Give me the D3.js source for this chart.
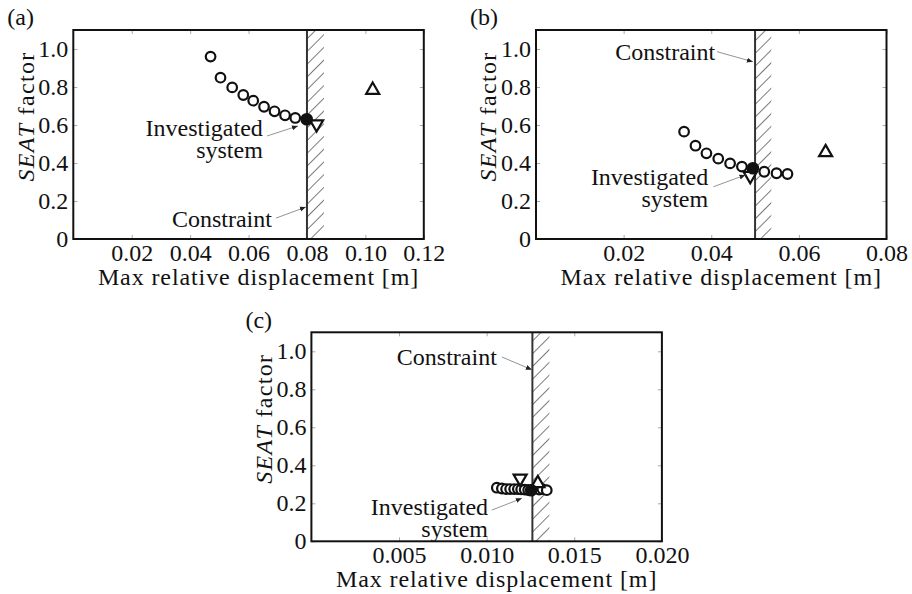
<!DOCTYPE html>
<html>
<head>
<meta charset="utf-8">
<script src="https://cdn.jsdelivr.net/npm/d3@7/dist/d3.min.js"></script>
<style>
  body { margin: 0; background: #fff; }
</style>
</head>
<body>
<div id="chart"></div>
<script>
/* ---- data ---- */
// (a)
const aFrontX = [0.0470, 0.0504, 0.0544, 0.0582, 0.0616, 0.0653, 0.0689, 0.0725, 0.0760];
const aFrontY = [0.960, 0.849, 0.798, 0.758, 0.728, 0.696, 0.672, 0.651, 0.637];
const aInvestigated = [0.0799, 0.630];
const aDown = [0.0833, 0.605];
const aUp = [0.1025, 0.784];
const aConstraint = [0.0800, 0.0858];
const aXTicks = [0.02, 0.04, 0.06, 0.08, 0.10, 0.12];
// (b)
const bFrontX = [0.0338, 0.0364, 0.0389, 0.0416, 0.0443, 0.0470, 0.0521, 0.0549, 0.0574];
const bFrontY = [0.565, 0.491, 0.451, 0.423, 0.398, 0.381, 0.354, 0.346, 0.342];
const bInvestigated = [0.0495, 0.372];
const bDown = [0.0489, 0.333];
const bUp = [0.0661, 0.456];
const bConstraint = [0.0500, 0.0537];
const bXTicks = [0.02, 0.04, 0.06, 0.08];
// (c)
const cFrontX = [0.01058, 0.01087, 0.01111, 0.01134, 0.01157, 0.01178, 0.01197, 0.01217, 0.01237, 0.01300, 0.01318, 0.01343];
const cFrontY = [0.282, 0.278, 0.275, 0.275, 0.275, 0.275, 0.273, 0.272, 0.270, 0.272, 0.275, 0.269];
const cInvestigated = [0.01254, 0.269];
const cDown = [0.01191, 0.331];
const cUp = [0.01292, 0.305];
const cConstraint = [0.01261, 0.01358];
const cXTicks = [0.005, 0.010, 0.015, 0.020];

const yTicks = [0, 0.2, 0.4, 0.6, 0.8, 1.0];
const xLabel = 'Max relative displacement [m]';

/* ---- panels ---- */
const W = 912, H = 594, FS = 24;
const FONT = '"Liberation Serif"';
const panels = [
  { tag: '(a)', left: 73.3, top: 30, xMax: 0.12, fmt: '.2f', ticks: aXTicks,
    fx: aFrontX, fy: aFrontY, inv: aInvestigated, down: aDown, up: aUp, con: aConstraint,
    notes: [
      { lines: ['Investigated', 'system'], at: [0.0649, 0.584], from: [0.0663, 0.542], to: [0.0769, 0.595] },
      { lines: ['Constraint'], at: [0.0680, 0.110], from: [0.0694, 0.110], to: [0.0796, 0.168] }
    ] },
  { tag: '(b)', left: 536, top: 30, xMax: 0.08, fmt: '.2f', ticks: bXTicks,
    fx: bFrontX, fy: bFrontY, inv: bInvestigated, down: bDown, up: bUp, con: bConstraint,
    notes: [
      { lines: ['Constraint'], at: [0.0409, 0.984], from: [0.0413, 0.986], to: [0.0495, 0.933] },
      { lines: ['Investigated', 'system'], at: [0.0393, 0.326], from: [0.0405, 0.275], to: [0.0478, 0.337] }
    ] },
  { tag: '(c)', left: 311.4, top: 332.3, xMax: 0.02, fmt: '.3f', ticks: cXTicks,
    fx: cFrontX, fy: cFrontY, inv: cInvestigated, down: cDown, up: cUp, con: cConstraint,
    notes: [
      { lines: ['Constraint'], at: [0.01058, 0.974], from: [0.01087, 0.970], to: [0.01258, 0.903] },
      { lines: ['Investigated', 'system'], at: [0.01008, 0.185], from: [0.01029, 0.164], to: [0.01201, 0.226] }
    ] }
];
const PW = 350.5, PH = 209;

const svg = d3.select('#chart').append('svg').attr('width', W).attr('height', H);
const defs = svg.append('defs');
defs.append('pattern').attr('id', 'hatch').attr('patternUnits', 'userSpaceOnUse')
  .attr('width', 9).attr('height', 9).attr('patternTransform', 'rotate(45)')
  .append('line').attr('x1', 0).attr('y1', 0).attr('x2', 0).attr('y2', 9)
  .attr('stroke', '#333').attr('stroke-width', 1.3);
defs.append('marker').attr('id', 'head').attr('markerUnits', 'userSpaceOnUse')
  .attr('markerWidth', 7).attr('markerHeight', 6).attr('refX', 6).attr('refY', 3).attr('orient', 'auto')
  .append('path').attr('d', 'M0,0.5L6,3L0,5.5Z').attr('fill', '#222');

const tri = (s, up) => {
  const h = s * Math.sqrt(3) / 2;
  return up ? `M0,${-h * 2 / 3}L${s / 2},${h / 3}L${-s / 2},${h / 3}Z`
            : `M0,${h * 2 / 3}L${s / 2},${-h / 3}L${-s / 2},${-h / 3}Z`;
};

panels.forEach(p => {
  const g = svg.append('g').attr('transform', `translate(${p.left},${p.top})`);
  const x = d3.scaleLinear().domain([0, p.xMax]).range([0, PW]);
  const y = d3.scaleLinear().domain([0, 1.1]).range([PH, 0]);

  // ticks, inward on all four sides
  const styleAxis = sel => {
    sel.attr('font-family', null);
    sel.select('.domain').remove();
    sel.selectAll('.tick line').attr('stroke', '#aaa').attr('stroke-width', 1);
    sel.selectAll('.tick text').attr('font-size', FS);
  };
  g.append('g').attr('transform', `translate(0,${PH})`)
    .call(d3.axisBottom(x).tickValues(p.ticks).tickFormat(d3.format(p.fmt)).tickSize(-4).tickPadding(5))
    .call(styleAxis);
  g.append('g')
    .call(d3.axisLeft(y).tickValues(yTicks).tickFormat(d => d === 0 ? '0' : d3.format('.1f')(d)).tickSize(-4).tickPadding(5))
    .call(styleAxis);
  g.append('g').call(d3.axisTop(x).tickValues(p.ticks).tickFormat('').tickSize(-4)).call(styleAxis);
  g.append('g').attr('transform', `translate(${PW},0)`)
    .call(d3.axisRight(y).tickValues(yTicks).tickFormat('').tickSize(-4)).call(styleAxis);

  // constraint band
  g.append('rect').attr('x', x(p.con[0])).attr('y', 0)
    .attr('width', x(p.con[1]) - x(p.con[0])).attr('height', PH).attr('fill', 'url(#hatch)');
  g.append('line').attr('x1', x(p.con[0])).attr('x2', x(p.con[0])).attr('y1', 0).attr('y2', PH)
    .attr('stroke', '#333').attr('stroke-width', 2);

  // frame
  g.append('rect').attr('width', PW).attr('height', PH).attr('fill', 'none')
    .attr('stroke', '#111').attr('stroke-width', 2);

  // markers
  g.selectAll('circle.front').data(d3.zip(p.fx, p.fy)).join('circle').attr('class', 'front')
    .attr('cx', d => x(d[0])).attr('cy', d => y(d[1])).attr('r', 4.8)
    .attr('fill', '#fff').attr('stroke', '#111').attr('stroke-width', 2.2);
  g.append('path').attr('d', tri(13, false)).attr('transform', `translate(${x(p.down[0])},${y(p.down[1])})`)
    .attr('fill', '#fff').attr('stroke', '#111').attr('stroke-width', 2.2);
  g.append('path').attr('d', tri(13, true)).attr('transform', `translate(${x(p.up[0])},${y(p.up[1])})`)
    .attr('fill', '#fff').attr('stroke', '#111').attr('stroke-width', 2.2);
  g.append('circle').attr('cx', x(p.inv[0])).attr('cy', y(p.inv[1])).attr('r', 6.3).attr('fill', '#111');

  // annotations
  p.notes.forEach(n => {
    const t = g.append('text').attr('text-anchor', 'end').attr('font-size', FS);
    n.lines.forEach((s, i) => {
      t.append('tspan').attr('x', x(n.at[0])).attr('y', y(n.at[1]) + i * 22).attr('dy', '0.35em').text(s);
    });
    g.append('line').attr('x1', x(n.from[0])).attr('y1', y(n.from[1]))
      .attr('x2', x(n.to[0])).attr('y2', y(n.to[1]))
      .attr('stroke', '#888').attr('stroke-width', 0.9).attr('marker-end', 'url(#head)');
  });

  // axis labels
  g.append('text').attr('x', PW / 2 + 10).attr('y', PH + 46).attr('text-anchor', 'middle')
    .attr('font-size', FS).style('letter-spacing', '0.9px').text(xLabel);
  const yl = g.append('text').attr('text-anchor', 'middle').attr('font-size', FS)
    .style('letter-spacing', '1.3px')
    .attr('transform', `translate(-48,${PH / 2 - 18}) rotate(-90)`).attr('dy', '0.35em');
  yl.append('tspan').style('font-style', 'italic').text('SEAT');
  yl.append('tspan').text(' factor');

  // panel tag
  svg.append('text').attr('x', p.left - 66).attr('y', p.top - 13).attr('dy', '0.35em')
    .attr('font-size', FS).text(p.tag);
});

svg.selectAll('text').style('font-family', FONT).style('fill', '#111');
</script>
</body>
</html>
